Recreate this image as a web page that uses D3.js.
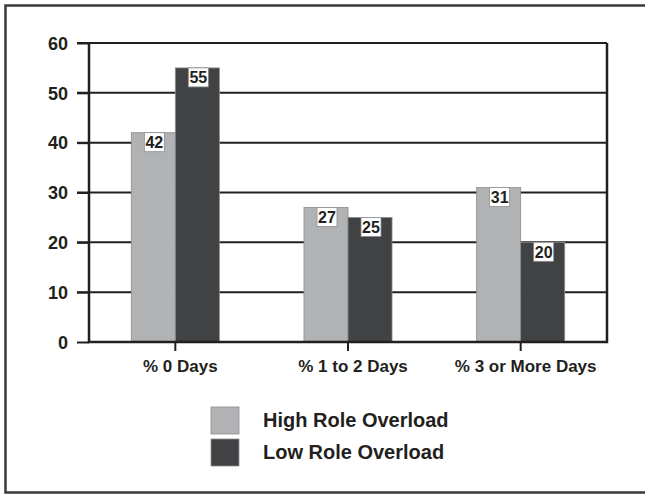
<!DOCTYPE html>
<html>
<head>
<meta charset="utf-8">
<script src="https://cdn.jsdelivr.net/npm/d3@7"></script>
<style>
  html, body { margin: 0; padding: 0; background: #fff; }
  svg { display: block; }
  text { font-family: "Liberation Sans", Arial, sans-serif; font-weight: bold; fill: #231f20; }
</style>
</head>
<body>
<svg id="chart" width="645" height="495"></svg>
<script>
// Share of respondents by number of days, split by role overload group
const categories = ["% 0 Days", "% 1 to 2 Days", "% 3 or More Days"];
const seriesNames = ["High Role Overload", "Low Role Overload"];
const highOverload = [42, 27, 31];
const lowOverload = [55, 25, 20];
const yTicks = [0, 10, 20, 30, 40, 50, 60];

const seriesValues = [highOverload, lowOverload];
const colors = ["#b1b2b4", "#414244"];
const ink = "#231f20";

const svg = d3.select("#chart");

// outer frame (right edge runs past the canvas)
svg.append("path")
  .attr("d", "M648,5.5 H5.5 V492.5 H648")
  .attr("fill", "none")
  .attr("stroke", "#3a3a3c")
  .attr("stroke-width", 2.5);

const plotLeft = 89, plotRight = 607, plotTop = 43, plotBottom = 342;

const x0 = d3.scaleBand()
  .domain(categories)
  .range([plotLeft, plotRight])
  .paddingInner(0.49)
  .paddingOuter(0.245);

const x1 = d3.scaleBand()
  .domain(d3.range(seriesNames.length))
  .range([0, x0.bandwidth()]);

const y = d3.scaleLinear()
  .domain([0, 60])
  .range([plotBottom, plotTop]);

// horizontal gridlines with left tick stubs
const grid = svg.append("g");
grid.selectAll("line")
  .data(yTicks.filter(d => d > 0))
  .join("line")
  .attr("x1", plotLeft - 12)
  .attr("x2", plotRight)
  .attr("y1", d => y(d))
  .attr("y2", d => y(d))
  .attr("stroke", ink)
  .attr("stroke-width", 2);

// bars
const groups = svg.append("g")
  .selectAll("g")
  .data(categories)
  .join("g")
  .attr("transform", d => `translate(${x0(d)},0)`);

groups.selectAll("rect")
  .data((d, i) => seriesValues.map((vals, s) => ({ s, v: vals[i] })))
  .join("rect")
  .attr("x", d => x1(d.s))
  .attr("y", d => y(d.v))
  .attr("width", x1.bandwidth())
  .attr("height", d => y(0) - y(d.v))
  .attr("fill", d => colors[d.s])
  .attr("stroke", "#8c8d8f")
  .attr("stroke-width", 0.8);

// value labels in white boxes at the top of each bar
const labels = groups.selectAll("g.val")
  .data((d, i) => seriesValues.map((vals, s) => ({ s, v: vals[i] })))
  .join("g")
  .attr("class", "val")
  .attr("transform", d => `translate(${x1(d.s) + x1.bandwidth() / 2 + 1},${y(d.v)})`);

labels.append("rect")
  .attr("x", -10)
  .attr("y", 0)
  .attr("width", 20)
  .attr("height", 19)
  .attr("fill", "#fff")
  .attr("stroke", "#8c8d8f")
  .attr("stroke-width", 0.8);

labels.append("text")
  .attr("x", 0)
  .attr("y", 15.5)
  .attr("text-anchor", "middle")
  .attr("font-size", 16)
  .text(d => d.v);

// y axis
const yAxis = svg.append("g")
  .attr("transform", `translate(${plotLeft},0)`)
  .call(d3.axisLeft(y).tickValues(yTicks).tickSize(12).tickPadding(9).tickFormat(d3.format("d")));
yAxis.select(".domain").remove();
yAxis.selectAll(".tick line").attr("stroke", ink).attr("stroke-width", 2);
yAxis.selectAll(".tick text")
  .attr("font-size", 18)
  .attr("fill", ink)
  .attr("font-family", "Liberation Sans, Arial, sans-serif")
  .attr("font-weight", "bold")
  .attr("dy", "0.35em");

// x axis
const xAxis = svg.append("g")
  .attr("transform", `translate(0,${plotBottom})`)
  .call(d3.axisBottom(x0).tickSize(9).tickPadding(9));
xAxis.select(".domain").remove();
xAxis.selectAll(".tick line").attr("stroke", ink).attr("stroke-width", 2);
xAxis.selectAll(".tick text")
  .attr("font-size", 17)
  .attr("dx", 5)
  .attr("fill", ink)
  .attr("font-family", "Liberation Sans, Arial, sans-serif")
  .attr("font-weight", "bold");

// plot frame: left axis, baseline and right edge
svg.append("path")
  .attr("d", `M${plotLeft},${plotTop} V${plotBottom} H${plotRight} V${plotTop}`)
  .attr("fill", "none")
  .attr("stroke", ink)
  .attr("stroke-width", 2.5);

// legend
const legend = svg.append("g")
  .selectAll("g")
  .data(seriesNames)
  .join("g")
  .attr("transform", (d, i) => `translate(211,${407 + i * 32})`);

legend.append("rect")
  .attr("width", 28)
  .attr("height", 27)
  .attr("fill", (d, i) => colors[i])
  .attr("stroke", "#8c8d8f")
  .attr("stroke-width", 0.8);

legend.append("text")
  .attr("x", 52)
  .attr("y", 20)
  .attr("font-size", 20)
  .text(d => d);
</script>
</body>
</html>
